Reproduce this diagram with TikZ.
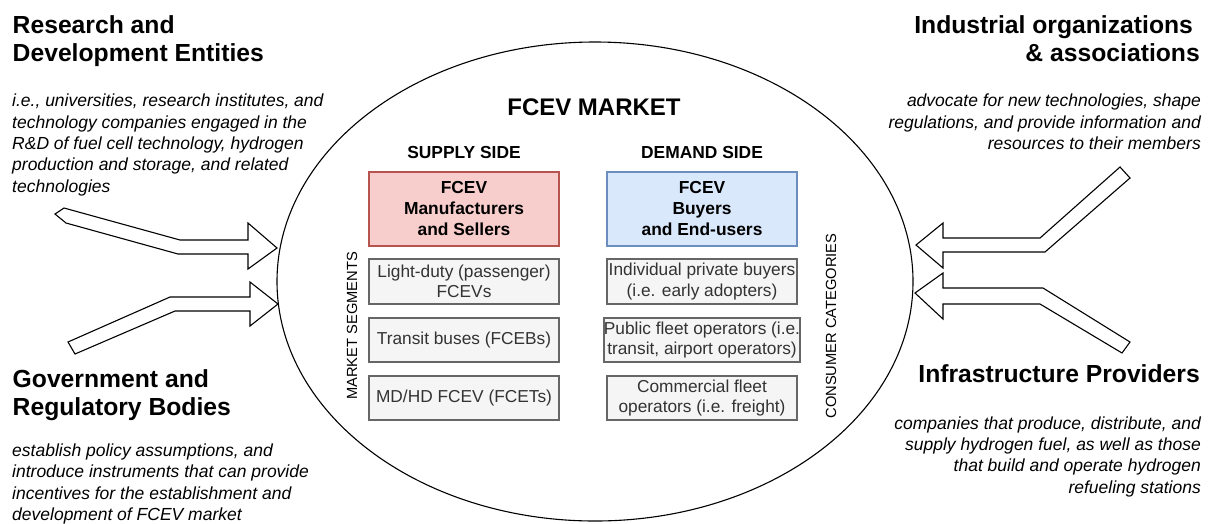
\documentclass[tikz,border=0pt]{standalone}
\usepackage{fontspec}
\setmainfont{Liberation Sans}
\usetikzlibrary{shapes.geometric}
\definecolor{supplyfill}{HTML}{F8CECC}
\definecolor{supplyline}{HTML}{B85450}
\definecolor{demandfill}{HTML}{DAE8FC}
\definecolor{demandline}{HTML}{6C8EBF}
\definecolor{itemfill}{HTML}{F5F5F5}
\definecolor{itemline}{HTML}{666666}
\definecolor{itemtext}{HTML}{333333}

\begin{document}
\begin{tikzpicture}[x=1pt,y=-1pt,
  heading/.style={font=\fontsize{24.7}{28}\selectfont\bfseries, inner sep=0pt},
  notetext/.style={font=\fontsize{17.5}{21.3}\selectfont\itshape, inner sep=0pt},
  sidetitle/.style={font=\fontsize{17.4}{21}\selectfont\bfseries, inner sep=0pt},
  partybox/.style={line width=1.3pt, minimum width=190pt, minimum height=74pt,
    align=center, font=\fontsize{17.4}{21}\selectfont\bfseries, inner sep=0pt},
  itembox/.style={draw=itemline, fill=itemfill, line width=1.6pt, text=itemtext,
    minimum width=190pt, align=center, font=\fontsize{17.3}{20.5}\selectfont, inner sep=0pt},
  axislabel/.style={font=\fontsize{14.7}{17}\selectfont, rotate=90, inner sep=0pt},
  blockarrow/.style={draw, fill=white, line width=1.1pt, line join=miter}
]
\useasboundingbox[fill=white] (0,0) rectangle (1217,523);

% the market
\node[draw, ellipse, line width=1.1pt, minimum width=636pt, minimum height=479pt, inner sep=0pt]
  (market) at (595,281.5) {};
\node[font=\fontsize{24}{28}\selectfont\bfseries, inner sep=0pt, anchor=base] (title) at (594,115) {FCEV MARKET};
\node[sidetitle, anchor=base] (supply) at (464,158) {SUPPLY SIDE};
\node[sidetitle, anchor=base] (demand) at (702,158) {DEMAND SIDE};

\node[partybox, draw=supplyline, fill=supplyfill] (sellers) at (464,209) {FCEV\\Manufacturers\\and Sellers};
\node[partybox, draw=demandline, fill=demandfill] (buyers) at (702,209) {FCEV\\Buyers\\and End-users};

\node[itembox, minimum height=45pt] (seg1) at (464,281.5) {Light-duty (passenger)\\FCEVs};
\node[itembox, minimum height=44pt] (seg2) at (464,340) {Transit buses (FCEBs)};
\node[itembox, minimum height=44pt] (seg3) at (464,398) {MD/HD FCEV (FCETs)};
\node[itembox, minimum height=45pt] (cat1) at (702,281.5) {Individual private buyers\\(i.e. early adopters)};
\node[itembox, minimum height=44pt] (cat2) at (702,340) {Public fleet operators (i.e.\\transit, airport operators)};
\node[itembox, minimum height=44pt] (cat3) at (702,398) {Commercial fleet\\operators (i.e. freight)};

\node[axislabel] (segments) at (352,326) {MARKET SEGMENTS};
\node[axislabel] (categories) at (831,326) {CONSUMER CATEGORIES};

% stakeholders around the market (base = baseline of the last line)
\node[heading, anchor=base west, align=left] (rnd) at (12.5,61) {Research and\\Development Entities};
\node[notetext, anchor=base west, align=left] (rndnote) at (12,192)
  {i.e., universities, research institutes, and\\technology companies engaged in the\\R\&D of fuel cell technology, hydrogen\\production and storage, and related\\technologies};

\node[heading, anchor=base west, align=left] (gov) at (12.5,415) {Government and\\Regulatory Bodies};
\node[notetext, anchor=base west, align=left] (govnote) at (12,520.5)
  {establish policy assumptions, and\\introduce instruments that can provide\\incentives for the establishment and\\development of FCEV market};

\node[heading, anchor=base east, align=right] (ind) at (1200,61) {Industrial organizations\hspace*{6.9pt}\\\& associations};
\node[notetext, anchor=base east, align=right] (indnote) at (1201,149.5)
  {advocate for new technologies, shape\\regulations, and provide information and\\resources to their members};

\node[heading, anchor=base east, align=right] (infra) at (1200,382) {Infrastructure Providers};
\node[notetext, anchor=base east, align=right] (infranote) at (1201,493)
  {companies that produce, distribute, and\\supply hydrogen fuel, as well as those\\that build and operate hydrogen\\refueling stations};

% block arrows into the market
\draw[blockarrow] (277,248) -- (248,223) -- (248,240) -- (180,240) -- (64,208) -- (55,214)
  -- (66,223) -- (178,254) -- (248,254) -- (248,269) -- cycle;
\draw[blockarrow] (278,304) -- (250,282) -- (250,297) -- (170,297) -- (68,342) -- (75,354)
  -- (175,311) -- (250,311) -- (250,326) -- cycle;
\draw[blockarrow] (916,245) -- (943,223) -- (943,238) -- (1040,238) -- (1120,167) -- (1130,178)
  -- (1045,252) -- (943,252) -- (943,268) -- cycle;
\draw[blockarrow] (915,293) -- (943,273) -- (943,288) -- (1043,288) -- (1130,342) -- (1122,353)
  -- (1040,304) -- (943,304) -- (943,319) -- cycle;
\end{tikzpicture}
\end{document}
